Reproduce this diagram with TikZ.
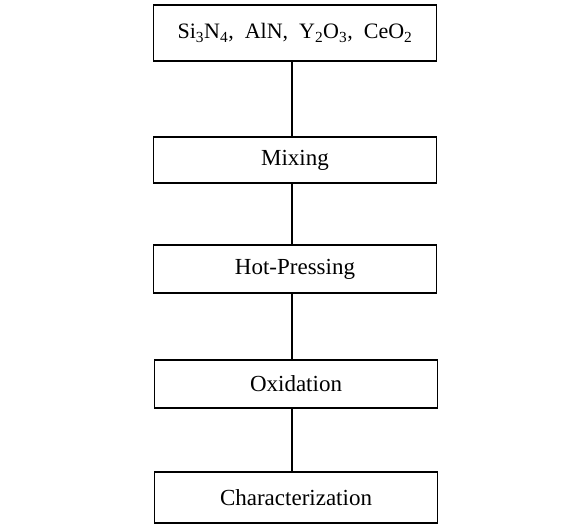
\documentclass[tikz,border=0pt]{standalone}
\usepackage{fontspec}
\setmainfont{Liberation Serif}
\begin{document}
\begin{tikzpicture}[x=1pt,y=1pt,
  stepbox/.style={draw=black, line width=1.1pt, minimum width=283pt, inner sep=0pt, font=\fontsize{23}{26}\selectfont},
  link/.style={draw=black, line width=1.1pt}]
\fill[white] (0,0) rectangle (574,526);
\useasboundingbox (0,0) rectangle (574,526);
\node[stepbox, minimum height=56pt, font=\fontsize{22}{26}\selectfont] (b1) at (295,493) {Si\textsubscript{3}N\textsubscript{4}, \ AlN, \ Y\textsubscript{2}O\textsubscript{3}, \ CeO\textsubscript{2}};
\node[stepbox, minimum height=46pt] (b2) at (295,366) {Mixing\hspace{6pt}};
\node[stepbox, minimum height=48pt] (b3) at (295,257) {Hot-Pressing\hspace{24pt}};
\node[stepbox, minimum height=48pt] (b4) at (296,142) {Oxidation\hspace{16pt}};
\node[stepbox, minimum height=51pt] (b5) at (296,28.5) {Characterization\hspace{20pt}};
\draw[link] (b1.south -| 292,0) -- (b2.north -| 292,0);
\draw[link] (b2.south -| 292,0) -- (b3.north -| 292,0);
\draw[link] (b3.south -| 292,0) -- (b4.north -| 292,0);
\draw[link] (b4.south -| 292,0) -- (b5.north -| 292,0);
\end{tikzpicture}
\end{document}
